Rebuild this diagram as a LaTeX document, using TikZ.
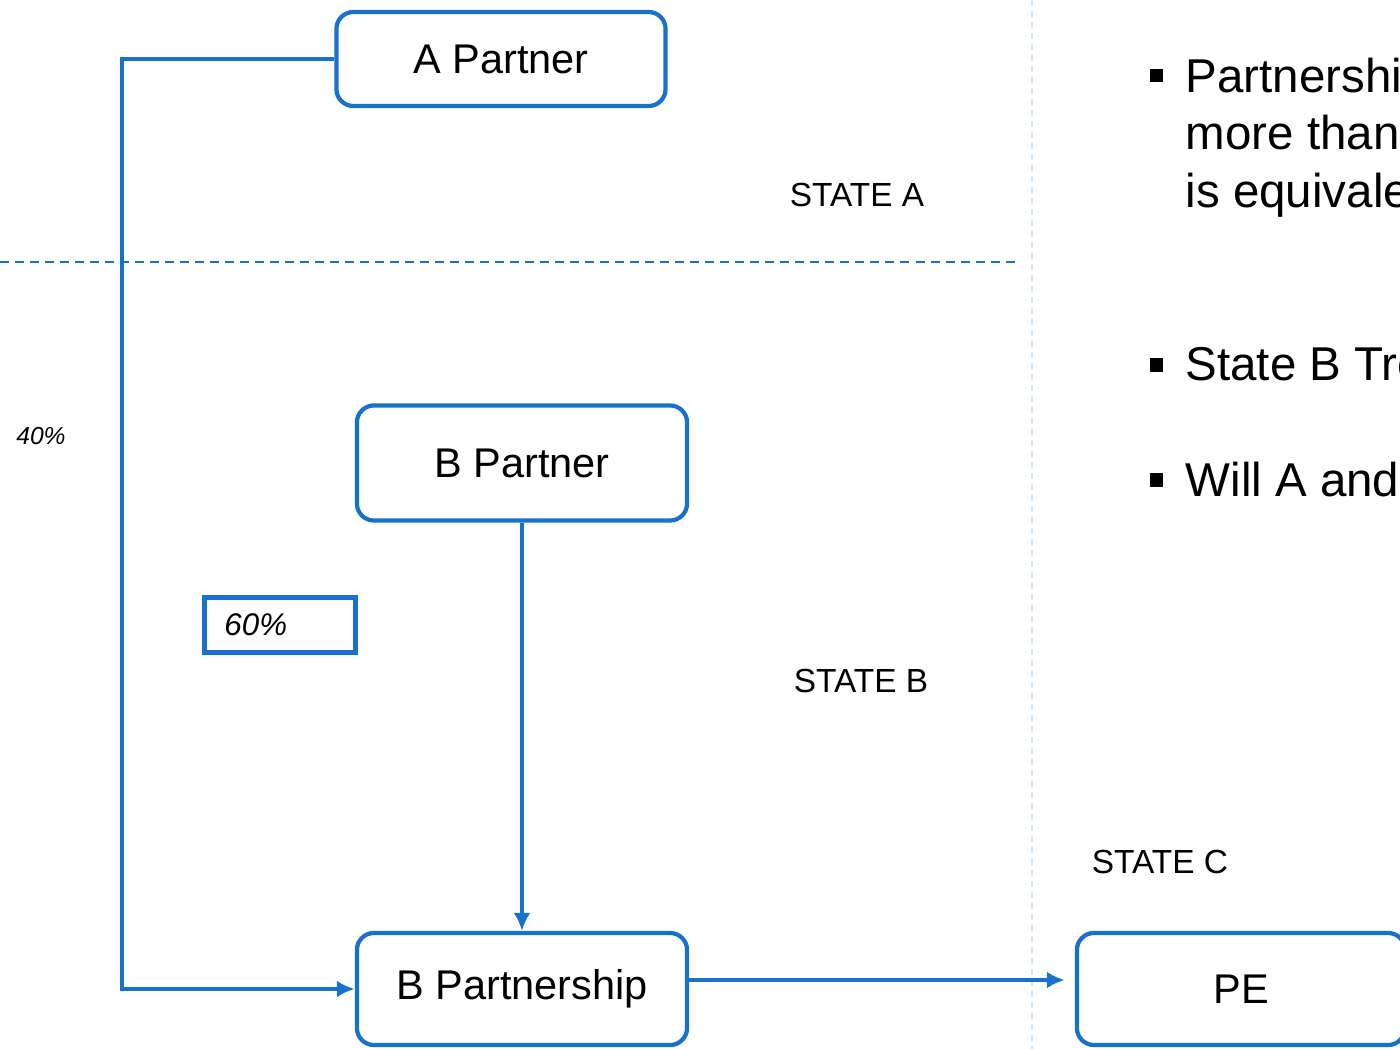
\documentclass[tikz,border=0pt]{standalone}
\usepackage{fontspec}
\setmainfont{Liberation Sans}
\usetikzlibrary{arrows.meta,positioning}
\definecolor{boxblue}{RGB}{24,114,204}
\definecolor{paleblue}{RGB}{210,232,248}

\begin{document}
\begin{tikzpicture}[x=0.01cm, y=-0.01cm]
 \tikzset{
entity/.style = {rectangle, rounded corners=0.17cm, draw=boxblue, line width=1.2pt, inner sep=0pt, font=\fontsize{11.8}{14}\selectfont},
share/.style = {rectangle, draw=boxblue, line width=1.2pt, minimum height=0.55cm, inner xsep=0.2cm, inner ysep=0pt, text width=1.11cm, align=left, font=\fontsize{8.9}{10}\selectfont\itshape},
link/.style = {draw=boxblue, line width=1.2pt, -{Latex[length=0.18cm,width=0.17cm]}},
statelabel/.style = {inner sep=0pt, font=\fontsize{9.5}{11}\selectfont},
note/.style = {anchor=base west, inner sep=0pt, font=\fontsize{13.5}{15}\selectfont},
bullet/.style = {rectangle, fill=black, minimum size=0.13cm, inner sep=0pt}}

    \useasboundingbox (0,0) rectangle (1400,1049);
    \clip (0,0) rectangle (1400,1049);

    % state borders
    \draw[boxblue, line width=0.7pt, dash pattern=on 0.09cm off 0.06cm] (0,262) -- (1017,262);
    \draw[paleblue, line width=0.5pt, dash pattern=on 0.06cm off 0.05cm] (1032,0) -- (1032,1049);

    \node [entity, minimum width=3.29cm, minimum height=0.94cm] (apartner) at (501,59) {A Partner};
    \node [entity, minimum width=3.30cm, minimum height=1.15cm] (bpartner) at (522,463) {B Partner};
    \node [entity, minimum width=3.30cm, minimum height=1.12cm] (bpship) at (522,989) {B Partnership};
    \node [entity, minimum width=3.28cm, minimum height=1.12cm] (pe) at (1241,989) {PE};

    \node [share] (sixty) at (280,625) {60\%};
    \node [inner sep=0pt, font=\fontsize{7}{8}\selectfont\itshape] (forty) at (41,436) {40\%};

    \node [statelabel] (statea) at (857,195) {STATE A};
    \node [statelabel] (stateb) at (861,681) {STATE B};
    \node [statelabel] (statec) at (1160,862) {STATE C};

    \coordinate (bend) at (122,59);
    \draw[link] (apartner.west) -- (bend) |- (bpship.west);
    \draw[link] (bpartner.south) -- (bpship.north);
    \draw[link, shorten >=0.1cm] ([yshift=0.09cm]bpship.east) -- ([yshift=0.09cm]pe.west);

    % notes on the right
    \node [bullet] (dot1) at (1156,76) {};
    \node [note] (n1a) at (1185,93) {Partnershi};
    \node [note] (n1b) at (1185,150) {more than};
    \node [note] (n1c) at (1185,208) {is equivale};
    \node [bullet] (dot2) at (1156,365) {};
    \node [note] (n2) at (1185,381) {State B Tre};
    \node [bullet] (dot3) at (1156,480) {};
    \node [note] (n3) at (1185,497) {Will A and};

  \end{tikzpicture}
\end{document}
